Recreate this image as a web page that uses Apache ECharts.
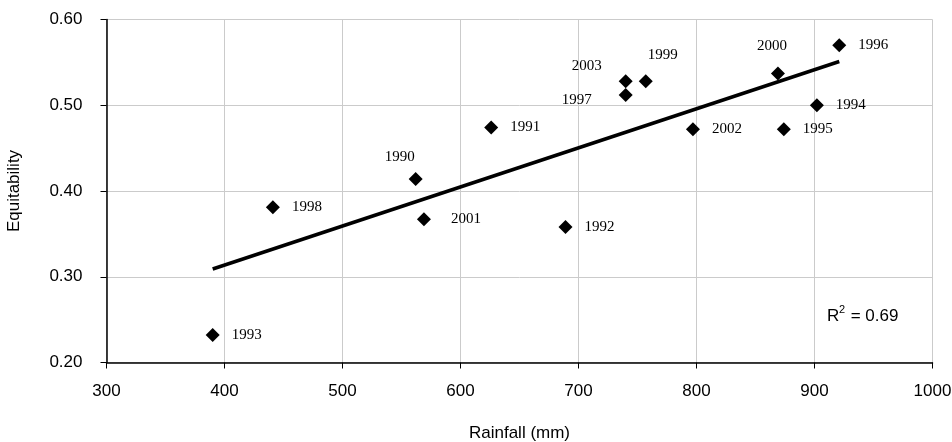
<!DOCTYPE html>
<html>
<head>
<meta charset="utf-8">
<style>
    html, body { margin: 0; padding: 0; background: #fff; }
    #chart { width: 952px; height: 442px; }
</style>
<script src="https://cdn.jsdelivr.net/npm/echarts@6/dist/echarts.min.js"></script>
</head>
<body>
<div id="chart"></div>
<script>
// 数据
let years = ['1993', '1998', '1990', '2001', '1991', '1992', '2003', '1997', '1999', '2002', '2000', '1995', '1994', '1996'];
let rainfall = [390, 441, 562, 569, 626, 689, 740, 740, 757, 797, 869, 874, 902, 921];
let equitability = [0.232, 0.381, 0.414, 0.367, 0.474, 0.358, 0.528, 0.512, 0.528, 0.472, 0.537, 0.472, 0.500, 0.570];
let trendX = [390, 921];
let trendY = [0.309, 0.551];
let xTicks = [300, 400, 500, 600, 700, 800, 900, 1000];
let yTicks = [0.20, 0.30, 0.40, 0.50, 0.60];

window.addEventListener('load', function() {
    let myChart = echarts.init(document.getElementById('chart'));

    // 标签位置微调
    let nudge = {
        '1990': [-16, -22],
        '2003': [-39, -15],
        '1997': [-49, 5],
        '1999': [17, -26],
        '2000': [-6, -27]
    };

    let points = years.map(function(y, i) {
        let item = { name: y, value: [rainfall[i], equitability[i]] };
        if (nudge[y]) {
            item.label = { position: 'inside', offset: nudge[y] };
        } else if (y === '2001') {
            item.label = { distance: 20 };
        }
        return item;
    });

    let trend = trendX.map(function(x, i) {
        return [x, trendY[i]];
    });

    let axisText = {
        fontFamily: 'Liberation Sans',
        fontSize: 17,
        color: '#000'
    };

    let option = {
        animation: false,
        grid: {
            left: 106.5,
            right: 19.5,
            top: 19.5,
            bottom: 79.5,
            containLabel: false,
            outerBoundsMode: 'none'
        },
        xAxis: {
            type: 'value',
            min: xTicks[0],
            max: xTicks[xTicks.length - 1],
            interval: 100,
            name: 'Rainfall (mm)',
            nameLocation: 'middle',
            nameGap: 62,
            nameTextStyle: axisText,
            axisLine: { show: true, lineStyle: { color: '#000', width: 1.5 } },
            axisTick: { show: true, length: 6, lineStyle: { color: '#000' } },
            axisLabel: Object.assign({
                margin: 20,
                formatter: function(v) { return String(v); }
            }, axisText),
            splitLine: { show: true, lineStyle: { color: '#cbcbcb', width: 1 } }
        },
        yAxis: {
            type: 'value',
            min: yTicks[0],
            max: yTicks[yTicks.length - 1],
            interval: 0.1,
            name: 'Equitability',
            nameLocation: 'middle',
            nameGap: 84,
            nameTextStyle: axisText,
            axisLine: { show: true, lineStyle: { color: '#000', width: 1.5 } },
            axisTick: { show: true, length: 6, lineStyle: { color: '#000' } },
            axisLabel: Object.assign({
                margin: 24,
                formatter: function(v) { return v.toFixed(2); }
            }, axisText),
            splitLine: { show: true, lineStyle: { color: '#cbcbcb', width: 1 } }
        },
        series: [{
                name: 'trend',
                type: 'line',
                data: trend,
                showSymbol: false,
                lineStyle: { color: '#000', width: 3.5 },
                z: 2
            },
            {
                name: 'years',
                type: 'scatter',
                symbol: 'diamond',
                symbolSize: 14,
                itemStyle: { color: '#000', opacity: 1 },
                data: points,
                z: 3,
                label: {
                    show: true,
                    position: 'right',
                    distance: 12,
                    formatter: '{b}',
                    fontFamily: 'Liberation Serif',
                    fontSize: 15,
                    color: '#000'
                }
            }
        ],
        graphic: [{
            type: 'group',
            left: 827,
            top: 304,
            children: [{
                    type: 'text',
                    x: 0,
                    y: 6,
                    style: { text: 'R', font: '17px "Liberation Sans"', fill: '#000' }
                },
                {
                    type: 'text',
                    x: 12,
                    y: 2,
                    style: { text: '2', font: '11px "Liberation Sans"', fill: '#000' }
                },
                {
                    type: 'text',
                    x: 19,
                    y: 6,
                    style: { text: ' = 0.69', font: '17px "Liberation Sans"', fill: '#000' }
                }
            ]
        }]
    };

    myChart.setOption(option);
});
</script>
</body>
</html>
